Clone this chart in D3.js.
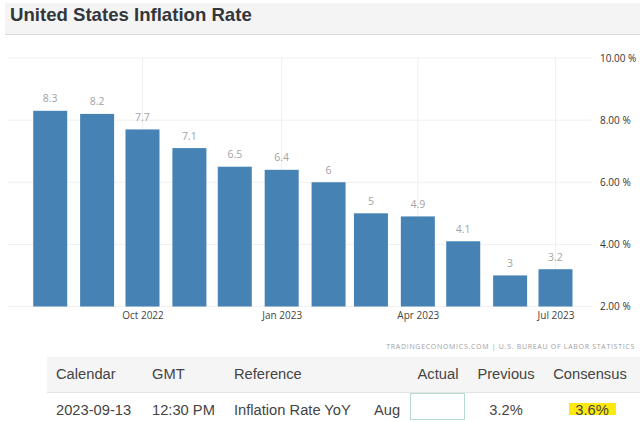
<!DOCTYPE html>
<html>
<head>
<meta charset="utf-8">
<script src="https://cdn.jsdelivr.net/npm/d3@7"></script>
<style>
  html, body { margin: 0; padding: 0; background: #fff; }
  svg { display: block; }
  .tick text { font-family: "Open Sans", sans-serif; font-size: 10px; }
  .tbl { font-family: "Liberation Sans", Arial, sans-serif; font-size: 14.7px; fill: #444; }
</style>
</head>
<body>
<div id="chart"></div>
<script>
const width = 640, height = 422;

// Chart values
const months = ["2022-08", "2022-09", "2022-10", "2022-11", "2022-12", "2023-01", "2023-02", "2023-03", "2023-04", "2023-05", "2023-06", "2023-07"];
const inflation = [8.3, 8.2, 7.7, 7.1, 6.5, 6.4, 6, 5, 4.9, 4.1, 3, 3.2];
const xTickMonths = ["2022-10", "2023-01", "2023-04", "2023-07"];
const yTicks = [2, 4, 6, 8, 10];

// Table under the chart
const tableHeaders = ["Calendar", "GMT", "Reference", "Actual", "Previous", "Consensus"];
const tableRow = ["2023-09-13", "12:30 PM", "Inflation Rate YoY", "Aug", "3.2%", "3.6%"];

const parseMonth = d3.timeParse("%Y-%m");
const formatMonth = d3.timeFormat("%b %Y");

const svg = d3.select("#chart").append("svg")
    .attr("width", width)
    .attr("height", height);

// Title bar
svg.append("rect").attr("x", 5).attr("y", 3).attr("width", 635).attr("height", 31).attr("fill", "#f4f4f4");
svg.append("line").attr("x1", 5).attr("x2", 640).attr("y1", 34.5).attr("y2", 34.5).attr("stroke", "#d9d9d9");
svg.append("text")
    .attr("x", 10).attr("y", 20.5)
    .style("font-family", "'Liberation Sans', Arial, sans-serif")
    .style("font-size", "18.6px")
    .style("font-weight", "bold")
    .style("fill", "#33363b")
    .text("United States Inflation Rate");

// Scales
const xScale = d3.scaleTime()
    .domain([parseMonth("2022-10"), parseMonth("2023-07")])
    .range([142.5, 555.5]);
const yScale = d3.scaleLinear().domain([2, 10]).range([306.5, 58]);

// Gridlines
svg.append("g").selectAll("line").data(yTicks).enter().append("line")
    .attr("x1", 8).attr("x2", 592)
    .attr("y1", d => yScale(d)).attr("y2", d => yScale(d))
    .attr("stroke", "#f0f0f0");
svg.append("g").selectAll("line").data(xTickMonths).enter().append("line")
    .attr("x1", d => xScale(parseMonth(d))).attr("x2", d => xScale(parseMonth(d)))
    .attr("y1", 58).attr("y2", 306)
    .attr("stroke", "#f0f0f0");

// Bars
const barW = 34;
svg.append("g").selectAll("rect").data(months).enter().append("rect")
    .attr("x", d => xScale(parseMonth(d)) - barW / 2)
    .attr("width", barW)
    .attr("y", (d, i) => yScale(inflation[i]))
    .attr("height", (d, i) => yScale(2) - yScale(inflation[i]))
    .attr("fill", "#4682b4");

// Value labels
svg.append("g").selectAll("text").data(months).enter().append("text")
    .attr("x", d => xScale(parseMonth(d)))
    .attr("y", (d, i) => yScale(inflation[i]) - 8.5)
    .attr("text-anchor", "middle")
    .style("font-family", "'Open Sans', sans-serif")
    .style("font-size", "10.5px")
    .style("fill", "#a3a3a3")
    .text((d, i) => inflation[i]);

// Axes
const xAxis = svg.append("g")
    .attr("transform", "translate(0,306)")
    .call(d3.axisBottom(xScale).tickValues(xTickMonths.map(parseMonth)).tickFormat(formatMonth).tickSize(0).tickPadding(6));
xAxis.select(".domain").remove();
xAxis.selectAll("text").style("fill", "#444");

const yAxis = svg.append("g")
    .attr("transform", "translate(600,0)")
    .call(d3.axisRight(yScale).tickValues(yTicks).tickFormat(d => d3.format(".2f")(d) + " %").tickSize(0).tickPadding(0));
yAxis.select(".domain").remove();
yAxis.selectAll("text").style("fill", "#333");

// Source credit
svg.append("text")
    .attr("x", 635).attr("y", 349)
    .attr("text-anchor", "end")
    .style("font-family", "'Open Sans', sans-serif")
    .style("font-size", "7px")
    .style("letter-spacing", "0.7px")
    .style("fill", "#a0a0a0")
    .text("TRADINGECONOMICS.COM  |  U.S. BUREAU OF LABOR STATISTICS");

// Table header band
svg.append("rect").attr("x", 47).attr("y", 357).attr("width", 593).attr("height", 35).attr("fill", "#f5f5f5");
svg.append("line").attr("x1", 47).attr("x2", 640).attr("y1", 392.5).attr("y2", 392.5).attr("stroke", "#e4e4e4");

const headerX = [56, 152, 234, 438, 506, 590];
const headerAnchor = ["start", "start", "start", "middle", "middle", "middle"];
svg.append("g").selectAll("text").data(tableHeaders).enter().append("text")
    .attr("class", "tbl")
    .attr("x", (d, i) => headerX[i])
    .attr("y", 379)
    .attr("text-anchor", (d, i) => headerAnchor[i])
    .text(d => d);

// Actual cell is empty, consensus is highlighted
svg.append("rect").attr("x", 410.5).attr("y", 393.5).attr("width", 54).attr("height", 26)
    .attr("fill", "#fff").attr("stroke", "#b5dccb");
svg.append("rect").attr("x", 569).attr("y", 403).attr("width", 47).attr("height", 12).attr("fill", "#fde910");

const rowX = [56, 152, 234, 374, 506, 592];
const rowAnchor = ["start", "start", "start", "start", "middle", "middle"];
svg.append("g").selectAll("text").data(tableRow).enter().append("text")
    .attr("class", "tbl")
    .attr("x", (d, i) => rowX[i])
    .attr("y", 415)
    .attr("text-anchor", (d, i) => rowAnchor[i])
    .text(d => d);
</script>
</body>
</html>
